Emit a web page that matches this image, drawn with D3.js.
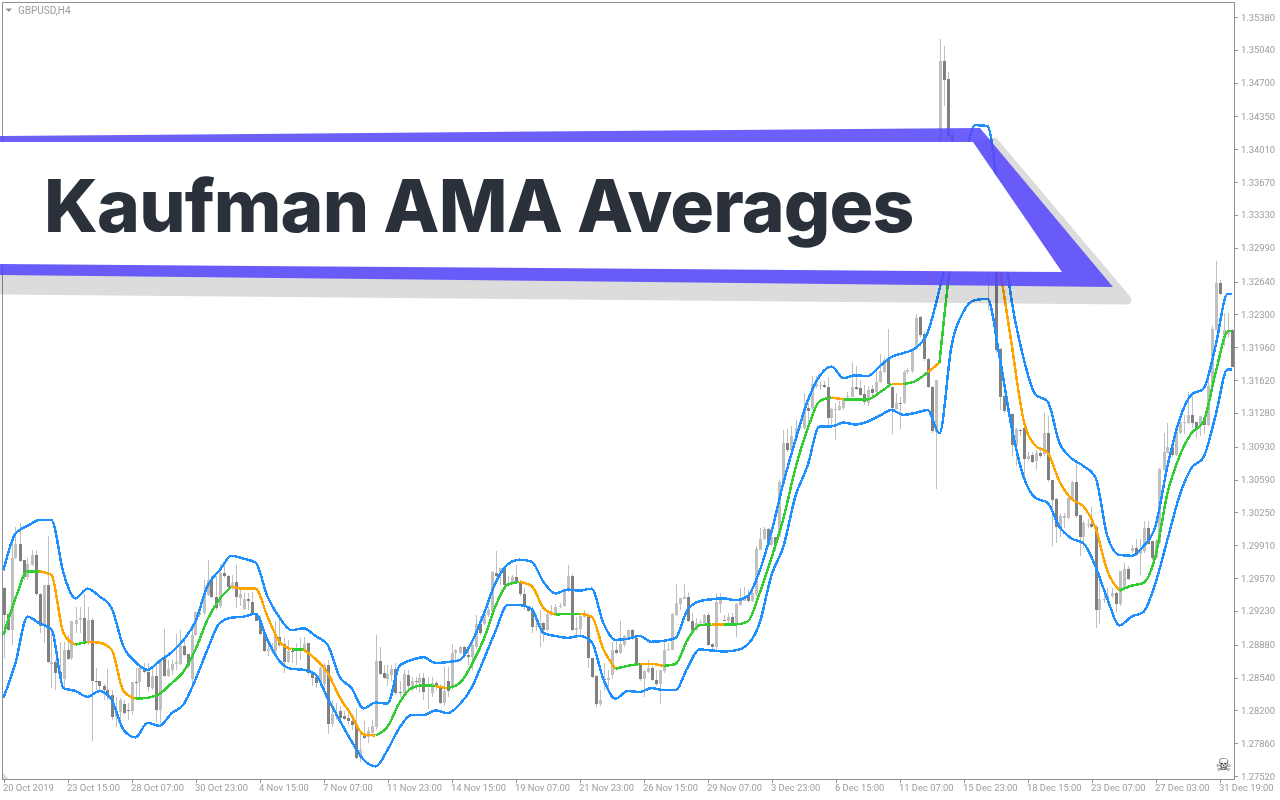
<!DOCTYPE html>
<html><head><meta charset="utf-8">
<script src="https://cdnjs.cloudflare.com/ajax/libs/d3/7.8.5/d3.min.js"></script>
<style>
html,body{margin:0;padding:0;background:#fff;overflow:hidden}
svg{display:block}
.ax text{font-family:Roboto,sans-serif;font-size:9.4px;fill:#9c9c9c}
</style></head><body>
<svg id="c" width="1280" height="800"></svg>
<script>
// Prices are stored in 1/10000 of a unit (13038 = 1.3038)
const opens=[12947,12920,12903,12978,12992,12976,12958,12971,12981,12940,
12909,12950,12868,12870,12860,12852,12882,12874,12909,12914,
12916,12890,12914,12850,12850,12845,12841,12836,12813,12818,
12827,12820,12819,12849,12849,12864,12860,12843,12856,12820,
12874,12856,12862,12868,12868,12887,12878,12852,12898,12919,
12921,12939,12955,12937,12928,12962,12959,12948,12953,12936,
12925,12935,12932,12921,12913,12900,12881,12880,12881,12896,
12889,12870,12881,12881,12883,12884,12890,12860,12855,12848,
12847,12867,12806,12815,12819,12814,12812,12809,12806,12772,
12793,12792,12797,12803,12871,12859,12852,12857,12863,12839,
12838,12857,12844,12850,12848,12853,12845,12838,12848,12844,
12828,12850,12844,12879,12879,12886,12877,12875,12886,12909,
12909,12919,12923,12962,12961,12967,12950,12952,12958,12953,
12940,12926,12924,12906,12906,12910,12903,12919,12921,12927,
12928,12944,12959,12903,12904,12917,12919,12874,12856,12827,
12852,12851,12857,12882,12879,12888,12895,12903,12895,12869,
12852,12860,12864,12851,12847,12861,12882,12883,12919,12930,
12935,12937,12913,12903,12910,12909,12919,12889,12886,12930,
12914,12913,12917,12909,12929,12933,12938,12933,12940,12986,
12997,13008,12991,12999,13000,13056,13097,13090,13102,13112,
13112,13133,13133,13156,13156,13157,13155,13123,13131,13131,
13133,13145,13145,13155,13154,13148,13138,13153,13150,13160,
13170,13184,13155,13132,13138,13138,13170,13171,13194,13227,
13210,13184,13155,13108,13380,13492,13474,13416,13400,13380,
13388,13355,13362,13340,13350,13318,13300,13292,13290,13194,
13146,13131,13127,13095,13110,13112,13080,13084,13078,13086,
13085,13107,13059,13039,13010,13019,13019,13038,13056,13022,
13000,13012,13013,13010,12924,12934,12935,12938,12942,12930,
12947,12966,12985,12988,12982,12985,13009,12995,12978,12993,
13069,13087,13093,13084,13107,13118,13118,13126,13119,13114,
13124,13116,13157,13214,13263,13209,13210,13214];
const closes=[12919,12903,12978,12992,12975,12958,12972,12981,12940,12907,
12950,12870,12870,12859,12852,12882,12873,12912,12914,12916,
12890,12914,12850,12849,12845,12841,12836,12813,12819,12831,
12817,12819,12849,12848,12864,12860,12844,12856,12820,12873,
12856,12863,12868,12870,12887,12877,12866,12898,12922,12922,
12940,12955,12937,12926,12962,12959,12948,12952,12937,12940,
12935,12933,12920,12913,12899,12881,12884,12884,12897,12888,
12870,12881,12880,12883,12884,12889,12859,12854,12848,12864,
12867,12806,12816,12814,12812,12811,12809,12805,12771,12779,
12791,12799,12804,12871,12858,12853,12858,12863,12838,12838,
12858,12845,12850,12849,12853,12839,12847,12848,12844,12828,
12840,12840,12879,12882,12886,12876,12875,12888,12909,12900,
12920,12924,12963,12959,12967,12950,12952,12958,12953,12940,
12928,12923,12906,12907,12910,12903,12920,12922,12927,12928,
12944,12959,12903,12905,12918,12919,12874,12855,12827,12831,
12851,12853,12882,12879,12889,12897,12903,12894,12866,12852,
12861,12864,12851,12847,12862,12883,12884,12920,12931,12936,
12937,12912,12903,12910,12911,12919,12888,12886,12932,12935,
12913,12917,12909,12930,12933,12936,12933,12941,12987,12997,
13008,12991,12999,12991,13056,13097,13090,13104,13112,13113,
13133,13130,13158,13158,13157,13155,13123,13132,13132,13135,
13141,13146,13155,13153,13147,13139,13152,13149,13160,13171,
13183,13158,13133,13138,13137,13170,13172,13194,13226,13209,
13184,13155,13109,13162,13492,13473,13415,13400,13380,13388,
13355,13362,13340,13350,13318,13300,13292,13288,13193,13145,
13130,13129,13095,13111,13109,13080,13083,13077,13086,13083,
13107,13059,13038,13010,13021,13021,13040,13056,13021,13000,
13014,13013,13010,12924,12935,12935,12939,12942,12930,12964,
12966,12956,12988,12981,12987,13009,12992,12978,12995,13070,
13088,13093,13084,13108,13119,13119,13126,13118,13112,13125,
13116,13156,13215,13263,13251,13214,13211,13176];
const highs=[12948,12920,12997,13010,13014,12976,12978,12986,12986,12941,
12950,13001,12905,12872,12891,12891,12898,12912,12927,12927,
12940,12927,12916,12864,12850,12847,12863,12841,12834,12833,
12831,12828,12849,12864,12867,12869,12869,12865,12869,12873,
12904,12872,12872,12899,12903,12893,12878,12905,12922,12928,
12955,12976,12959,12959,12972,12970,12960,12960,12970,12948,
12941,12941,12943,12921,12919,12902,12893,12890,12912,12914,
12895,12893,12886,12890,12895,12896,12890,12860,12855,12865,
12869,12872,12831,12828,12824,12819,12817,12814,12822,12798,
12809,12803,12810,12898,12886,12867,12867,12867,12869,12850,
12862,12862,12855,12855,12859,12859,12855,12855,12850,12847,
12865,12865,12889,12884,12887,12887,12886,12891,12919,12918,
12921,12928,12964,12985,12967,12967,12959,12960,12970,12955,
12947,12928,12928,12919,12924,12911,12921,12929,12930,12931,
12946,12971,12961,12917,12919,12924,12921,12874,12857,12841,
12869,12862,12891,12893,12912,12898,12903,12904,12895,12869,
12862,12872,12866,12862,12862,12893,12890,12921,12951,12936,
12951,12941,12921,12916,12914,12920,12921,12890,12941,12941,
12919,12921,12921,12931,12947,12948,12945,12945,12990,13009,
13010,13009,13003,13000,13059,13110,13111,13114,13121,13121,
13149,13138,13166,13166,13161,13161,13165,13133,13138,13140,
13145,13150,13181,13177,13162,13157,13156,13157,13173,13189,
13185,13215,13156,13149,13144,13172,13175,13195,13230,13228,
13213,13185,13156,13162,13515,13508,13481,13420,13405,13392,
13395,13370,13375,13358,13355,13330,13310,13296,13295,13195,
13147,13133,13128,13112,13111,13114,13088,13088,13090,13090,
13128,13125,13059,13040,13023,13024,13042,13057,13078,13022,
13016,13018,13031,13012,12957,12945,12947,12947,12943,12964,
12973,12969,12991,12997,12997,13016,13016,12995,12997,13071,
13107,13118,13100,13109,13125,13126,13150,13150,13119,13125,
13125,13166,13218,13285,13266,13231,13231,13215];
const lows=[12874,12902,12888,12977,12974,12955,12955,12969,12938,12900,
12890,12869,12843,12841,12850,12841,12872,12872,12900,12900,
12888,12888,12788,12841,12840,12831,12831,12810,12803,12805,
12815,12810,12815,12831,12834,12859,12840,12841,12807,12807,
12855,12855,12857,12862,12867,12876,12864,12843,12897,12917,
12919,12938,12936,12924,12926,12957,12947,12945,12926,12928,
12924,12924,12919,12912,12898,12880,12876,12878,12878,12886,
12859,12869,12869,12867,12872,12883,12857,12845,12843,12845,
12836,12795,12803,12810,12810,12810,12805,12800,12770,12767,
12790,12786,12793,12800,12857,12852,12845,12850,12836,12834,
12834,12841,12840,12841,12838,12831,12821,12834,12841,12827,
12824,12834,12841,12869,12878,12874,12867,12862,12884,12898,
12908,12917,12922,12958,12950,12949,12948,12950,12952,12938,
12924,12922,12900,12902,12886,12891,12902,12918,12919,12926,
12927,12943,12902,12897,12896,12916,12864,12853,12823,12824,
12841,12843,12852,12878,12878,12886,12893,12893,12866,12850,
12834,12859,12850,12845,12827,12859,12881,12882,12918,12924,
12935,12911,12902,12902,12908,12908,12887,12884,12883,12921,
12912,12910,12908,12896,12928,12933,12932,12932,12938,12986,
12996,12990,12990,12985,12999,13054,13088,13088,13100,13111,
13111,13114,13131,13154,13152,13154,13112,13112,13100,13130,
13131,13142,13144,13152,13146,13136,13135,13142,13149,13159,
13169,13157,13106,13131,13111,13137,13168,13169,13194,13207,
13182,13154,13107,13049,13370,13446,13415,13395,13375,13360,
13350,13340,13335,13320,13310,13295,13235,13285,13190,13131,
13128,13126,13083,13073,13104,13061,13078,13076,13069,13081,
13083,13056,12990,12993,13000,13009,13018,13037,13019,12980,
12988,13009,13009,12905,12909,12931,12930,12936,12922,12928,
12946,12955,12983,12980,12960,12983,12991,12976,12977,12992,
13069,13086,13082,13083,13106,13106,13117,13112,13102,13104,
13106,13114,13156,13214,13250,13197,13207,13176];
// band readings: one reading per third bar, then the last bar
const upperBand=[12965,13003,13011,13017,13017,12962,12936,12946,12938,12926,
12886,12870,12862,12871,12880,12893,12912,12949,12965,12980,
12977,12973,12938,12916,12903,12905,12897,12888,12855,12843,
12822,12828,12827,12866,12872,12875,12869,12870,12872,12890,
12919,12952,12971,12976,12974,12953,12941,12945,12944,12946,
12910,12893,12894,12897,12891,12892,12895,12924,12933,12935,
12936,12934,12938,12964,13005,13056,13100,13140,13166,13176,
13164,13167,13166,13176,13186,13190,13195,13211,13256,13312,
13385,13426,13425,13343,13245,13185,13147,13140,13097,13081,
13073,13061,13000,12981,12980,12990,13011,13073,13121,13147,
13153,13197,13251,13251];
const lowerBand=[12833,12869,12917,12910,12904,12843,12840,12834,12840,12831,
12800,12792,12807,12804,12817,12826,12852,12883,12910,12916,
12917,12920,12893,12871,12863,12862,12857,12833,12810,12788,
12769,12762,12779,12802,12815,12815,12820,12817,12826,12843,
12872,12902,12929,12929,12925,12900,12897,12895,12897,12891,
12852,12832,12840,12839,12843,12841,12841,12864,12883,12882,
12881,12882,12888,12910,12960,12990,13042,13073,13114,13114,
13118,13116,13119,13125,13131,13126,13128,13131,13107,13197,
13233,13245,13246,13187,13114,13062,13040,13035,13010,12998,
12993,12969,12935,12908,12917,12922,12952,12997,13042,13071,
13082,13125,13173,13173];
const midLine=[12898,12936,12964,12964,12960,12900,12888,12891,12890,12883,
12840,12832,12833,12837,12848,12860,12883,12914,12935,12948,
12946,12946,12917,12891,12883,12883,12873,12859,12834,12815,
12795,12794,12803,12828,12843,12846,12845,12843,12848,12867,
12893,12928,12950,12953,12949,12926,12919,12920,12920,12917,
12883,12863,12866,12868,12868,12866,12868,12893,12908,12909,
12909,12909,12912,12941,12978,13019,13071,13111,13140,13144,
13142,13142,13142,13149,13158,13158,13161,13170,13180,13292,
13359,13385,13359,13281,13200,13121,13094,13087,13057,13039,
13031,13009,12964,12944,12949,12952,12980,13045,13083,13107,
13119,13169,13212,13213];
// g = rising (green), o = falling (orange); one letter per stretch between readings
const midTrend=("ggg"+"ooo"+"g"+"oooo"+"gggggggg"+"ooooo"+"g"+"oooooo"+"ggggg"+"o"+"gggggg"+"ooo"+"gg"+"ooo"+"gg"+"oo"+"gggg"+"o"+"ggggggggg"+"o"+"gggg"+"o"+"gg"+"o"+"ggg"+"oooooooooooo"+"gggggggggg").split("");
const priceTicks=[1.3538,1.3504,1.347,1.3435,1.3401,1.3367,1.3333,1.3299,1.3264,1.323,1.3196,1.3162,1.3128,1.3093,1.3059,1.3025,1.2991,1.2957,1.2923,1.2888,1.2854,1.282,1.2786,1.2752];
const timeLabels=["20 Oct 2019","23 Oct 15:00","28 Oct 07:00","30 Oct 23:00","4 Nov 15:00","7 Nov 07:00","11 Nov 23:00","14 Nov 15:00","19 Nov 07:00","21 Nov 23:00","26 Nov 15:00","29 Nov 07:00","3 Dec 23:00","6 Dec 15:00","11 Dec 07:00","15 Dec 23:00","18 Dec 15:00","23 Dec 07:00","27 Dec 03:00","31 Dec 19:00"];
const symbolText="GBPUSD,H4";
const titleText="Kaufman AMA Averages";

const svg=d3.select("#c");
const L=2,T=2,R=1234,B=779;
const nBars=opens.length;
if(![closes,highs,lows].every(a=>a.length===nBars)) console.error("ohlc length",nBars,closes.length,highs.length,lows.length);
const x=d3.scaleLinear().domain([0,nBars-1]).range([3.5,3.5+4*(nBars-1)]);
const y=d3.scaleLinear().domain([1.3538,1.2752]).range([17,776]);
const py=p=>y(p/10000);
const bars=d3.range(nBars);
const lineBars=d3.range(0,nBars-1,3).concat([nBars-1]);
[upperBand,lowerBand,midLine].forEach(a=>{if(a.length!==lineBars.length)console.error("band length",a.length,lineBars.length)});

// frame
svg.append("rect").attr("x",L+.5).attr("y",T+.5).attr("width",R-L).attr("height",B-T)
  .attr("fill","#fff").attr("stroke","#8e9297");
svg.append("path").attr("d",`M${L+1},773L${L+1},${B}L9,${B}Z`).attr("fill","#dcdcdc");

// axes
const tickBars=timeLabels.map((_,i)=>i*16);
const xAxis=d3.axisBottom(x).tickValues(tickBars).tickFormat((d,i)=>timeLabels[i]).tickSize(3).tickSizeOuter(0);
const gx=svg.append("g").attr("class","ax").attr("transform",`translate(0,${B+.5})`).call(xAxis);
gx.select(".domain").remove();
gx.selectAll(".tick line").attr("stroke","#8e9297").attr("shape-rendering","crispEdges");
gx.selectAll("text").attr("text-anchor","start").attr("y",5).attr("dy","0.71em").attr("dx",-1);
const yAxis=d3.axisRight(y).tickValues(priceTicks).tickFormat(d3.format(".5f")).tickSize(3).tickSizeOuter(0);
const gy=svg.append("g").attr("class","ax").attr("transform",`translate(${R+.5},0)`).call(yAxis);
gy.select(".domain").remove();
gy.selectAll(".tick line").attr("stroke","#8e9297").attr("shape-rendering","crispEdges");
gy.selectAll("text").attr("x",6.5);

// candles
const chart=svg.append("g");
chart.selectAll("line.w").data(bars).join("line").attr("class","w")
  .attr("x1",i=>Math.round(x(i))+.5).attr("x2",i=>Math.round(x(i))+.5)
  .attr("y1",i=>py(highs[i])).attr("y2",i=>py(lows[i]))
  .attr("stroke","#c0c0c0").attr("stroke-width",1).attr("shape-rendering","crispEdges");
chart.selectAll("rect.b").data(bars).join("rect").attr("class","b")
  .attr("x",i=>Math.round(x(i))-1).attr("width",3)
  .attr("y",i=>Math.min(py(opens[i]),py(closes[i])))
  .attr("height",i=>Math.max(1,Math.abs(py(opens[i])-py(closes[i]))))
  .attr("fill",i=>closes[i]>=opens[i]?"#c0c0c0":"#808080").attr("shape-rendering","crispEdges");

// bands
const line=d3.line().x(d=>x(d[0])).y(d=>py(d[1])).curve(d3.curveMonotoneX);
[upperBand,lowerBand].forEach(a=>{
  chart.append("path").attr("d",line(lineBars.map((b,k)=>[b,a[k]])))
    .attr("fill","none").attr("stroke","#1e90ff").attr("stroke-width",2.5).attr("shape-rendering","crispEdges");
});
let start=0;
for(let k=1;k<=midTrend.length;k++){
  if(k===midTrend.length||midTrend[k]!==midTrend[start]){
    const pts=d3.range(start,k+1).map(j=>[lineBars[j],midLine[j]]);
    chart.append("path").attr("d",line(pts)).attr("fill","none")
      .attr("stroke",midTrend[start]==="g"?"#32cd32":"#ffa500").attr("stroke-width",2.5).attr("shape-rendering","crispEdges");
    start=k;
  }
}

// header + icon
svg.append("path").attr("d","M5.5,8.5L12,8.5L8.75,12Z").attr("fill","#8e9297");
svg.append("text").attr("x",18).attr("y",13.5).text(symbolText)
  .attr("font-family","Roboto,sans-serif").attr("font-size",10).attr("fill","#9c9c9c");
svg.append("text").attr("x",1223.5).attr("y",771).text("\u2620").attr("text-anchor","middle")
  .attr("font-family","DejaVu Sans").attr("font-size",18).attr("fill","#333");

// banner
const poly=p=>"M"+p.map(q=>q.join(",")).join("L")+"Z";
svg.append("path").attr("d",poly([[-10,272],[970,145],[995,140],[1129,299],[1128,302],[-10,292]]))
  .attr("fill","#dcdcdc").attr("stroke","#dcdcdc").attr("stroke-width",5).attr("stroke-linejoin","round")
  .style("mix-blend-mode","multiply");
svg.append("path").attr("d",poly([[0,136],[980,128],[1113,287],[0,275]])).attr("fill","#5849fc").attr("fill-opacity",.88);
svg.append("path").attr("d",poly([[0,142],[973,142],[1062,272],[0,264]])).attr("fill","#fff");
svg.append("text").attr("x",44).attr("y",232).text(titleText)
  .attr("font-family","Inter,sans-serif").attr("font-weight",800).attr("font-size",73).attr("letter-spacing",-0.85).attr("fill","#2b313b");
</script>
</body></html>
